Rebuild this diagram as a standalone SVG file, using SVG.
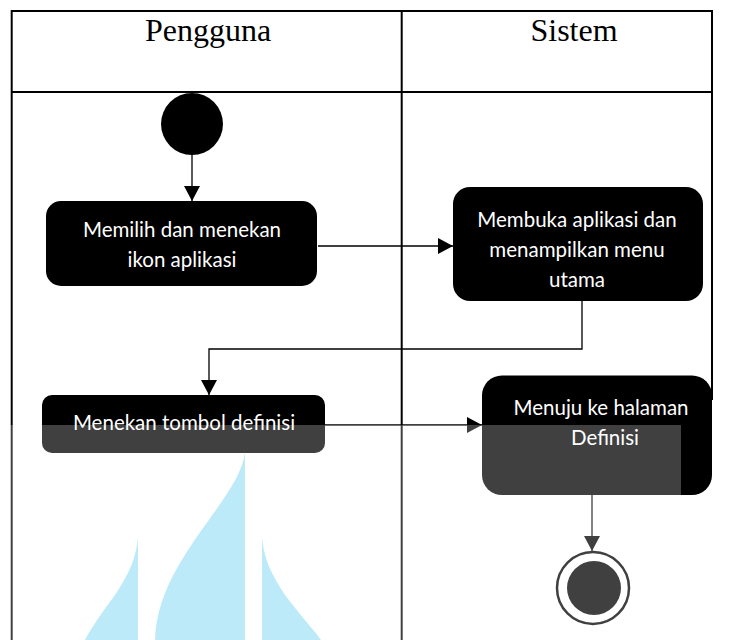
<svg xmlns="http://www.w3.org/2000/svg" width="735" height="640" viewBox="0 0 735 640">
  <style>
    .lane { stroke: #000; stroke-width: 2; fill: none; }
    .head { font-family: "Liberation Serif", "Times New Roman", serif; font-size: 32px; fill: #000; text-anchor: middle; }
    .act { fill: #000; }
    .lbl { font-family: Lato, "Noto Sans", sans-serif; font-size: 20.5px; fill: #fff; text-anchor: middle; }
    .flow { stroke: #000; stroke-width: 1.3; fill: none; marker-end: url(#arrow); }
    .mark { fill: #bdeaf9; }
  </style>
  <defs>
    <marker id="arrow" viewBox="0 0 15 16" refX="15" refY="8" markerWidth="15" markerHeight="16" markerUnits="userSpaceOnUse" orient="auto">
      <path d="M0,0 L15,8 L0,16 Z" fill="#000"/>
    </marker>
  </defs>
  <rect width="735" height="640" fill="#fff"/>

  <!-- swimlane frame -->
  <g id="lanes">
    <line class="lane" x1="11.7" y1="11" x2="712" y2="11"/>
    <line class="lane" x1="11.7" y1="92" x2="712" y2="92"/>
    <line class="lane" x1="11.7" y1="10" x2="11.7" y2="640"/>
    <line class="lane" x1="401.7" y1="10" x2="401.7" y2="640"/>
    <line class="lane" x1="712" y1="10" x2="712" y2="400"/>
    <text class="head" x="208" y="41">Pengguna</text>
    <text class="head" x="574" y="41">Sistem</text>
  </g>

  <!-- connectors -->
  <g id="connectors">
    <line class="flow" x1="192" y1="154" x2="192" y2="201"/>
    <line class="flow" x1="318" y1="246" x2="453" y2="246"/>
    <polyline class="flow" points="582,301 582,349 209,349 209,395"/>
    <line class="flow" x1="325" y1="425" x2="482" y2="425"/>
    <line class="flow" x1="592" y1="495" x2="592" y2="551"/>
  </g>

  <g id="start">
    <circle cx="192" cy="124" r="31" fill="#000"/>
  </g>

  <g id="memilih">
    <rect class="act" x="46" y="201" width="271" height="85" rx="15"/>
    <text class="lbl" x="182" y="237">Memilih dan menekan</text>
    <text class="lbl" x="182" y="267">ikon aplikasi</text>
  </g>

  <g id="membuka">
    <rect class="act" x="453" y="187" width="250" height="114" rx="17"/>
    <text class="lbl" x="577" y="227">Membuka aplikasi dan</text>
    <text class="lbl" x="577" y="257">menampilkan menu</text>
    <text class="lbl" x="577" y="287">utama</text>
  </g>

  <g id="menekan">
    <rect class="act" x="42" y="395" width="283" height="58" rx="10"/>
    <text class="lbl" x="184" y="430">Menekan tombol definisi</text>
  </g>

  <g id="menuju">
    <rect class="act" x="482" y="375.5" width="230" height="119.5" rx="20"/>
    <text class="lbl" x="601" y="415">Menuju ke halaman</text>
    <text class="lbl" x="605" y="445">Definisi</text>
  </g>

  <g id="end">
    <circle cx="593" cy="588" r="36" fill="none" stroke="#000" stroke-width="2.5"/>
    <circle cx="594" cy="588" r="27" fill="#000"/>
  </g>

  <!-- pale wash over the lower part of the sheet -->
  <rect x="0" y="425" width="681" height="215" fill="#fff" fill-opacity="0.25"/>

  <!-- light blue emblem -->
  <g id="emblem">
    <path class="mark" d="M245,452 C240,500 157,560 155,640 L245,640 Z"/>
    <path class="mark" d="M262,537 C264,560 272,575 285,595 C300,615 314,630 321,640 L262,640 Z"/>
    <path class="mark" d="M138,537 C136,560 128,575 115,595 C100,615 90,630 85,640 L138,640 Z"/>
  </g>
</svg>
